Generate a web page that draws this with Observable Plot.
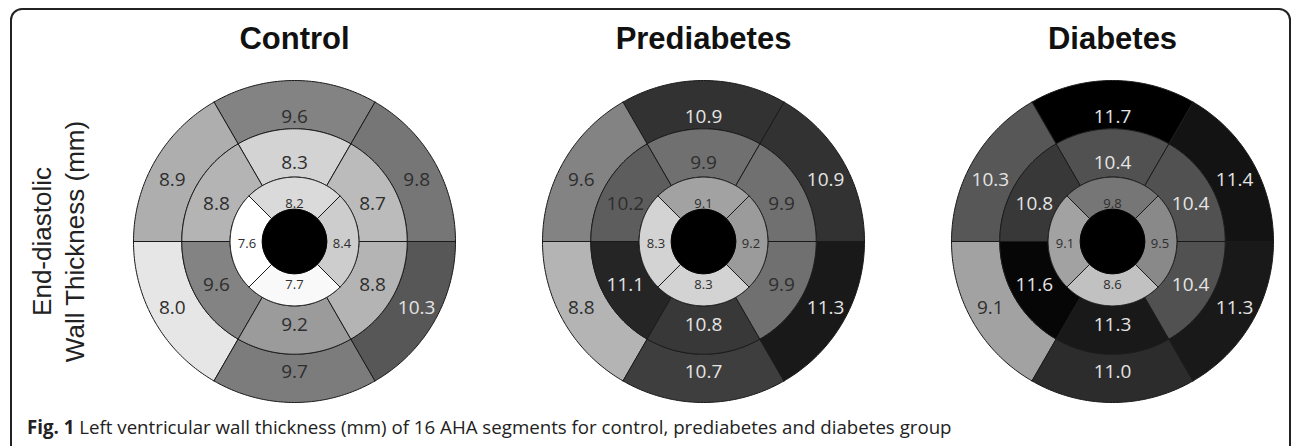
<!DOCTYPE html>
<html>
<head>
<meta charset="utf-8">
<script src="https://cdn.jsdelivr.net/npm/d3@7"></script>
<script src="https://cdn.jsdelivr.net/npm/@observablehq/plot@0.6"></script>
<style>
  html, body { margin: 0; padding: 0; background: #fff; }
  body { width: 1292px; height: 446px; overflow: hidden; position: relative; font-family: "Open Sans", sans-serif; }
  #frame { position: absolute; left: 10px; top: 8px; width: 1281px; height: 600px; box-sizing: border-box;
           border: 2px solid #222; border-radius: 12px; }
  #chart { position: absolute; left: 0; top: 0; }
  #caption { position: absolute; left: 27px; top: 415px; font-size: 18.7px; line-height: 24px; color: #222; white-space: nowrap; }
  #caption b { font-weight: 700; }
</style>
</head>
<body>
<div id="frame"></div>
<div id="chart"></div>
<div id="caption"></div>
<script>
// ---- data (AHA 16-segment order: 1-6 basal, 7-12 mid, 13-16 apical) ----
const panels = ["Control", "Prediabetes", "Diabetes"];
const segmentNumbers = [1, 2, 3, 4, 5, 6, 7, 8, 9, 10, 11, 12, 13, 14, 15, 16];
const controlThickness     = [9.6, 8.9, 8.0, 9.7, 10.3, 9.8, 8.3, 8.8, 9.6, 9.2, 8.8, 8.7, 8.2, 7.6, 7.7, 8.4];
const prediabetesThickness = [10.9, 9.6, 8.8, 10.7, 11.3, 10.9, 9.9, 10.2, 11.1, 10.8, 9.9, 9.9, 9.1, 8.3, 8.3, 9.2];
const diabetesThickness    = [11.7, 10.3, 9.1, 11.0, 11.3, 11.4, 10.4, 10.8, 11.6, 11.3, 10.4, 10.4, 9.8, 9.1, 8.6, 9.5];
const yLabelLines = ["End-diastolic", "Wall Thickness (mm)"];
const captionLead = "Fig. 1";
const captionText = "Left ventricular wall thickness (mm) of 16 AHA segments for control, prediabetes and diabetes group";
const colorDomain = [7.6, 11.7];
const whiteTextFrom = 10.3;

document.getElementById("caption").innerHTML = `<b>${captionLead}</b> ${captionText}`;

// ---- AHA bullseye geometry ----
const ringRadii = [[0.7, 1.0], [0.4, 0.7], [0.2, 0.4]];
const labelRadii = [[0.876, 0.792], [0.56, 0.503], [0.295, 0.252]];
function segGeom(s) {
  if (s <= 6) { const a0 = 60 + 60 * (s - 1); return {ring: 0, a0, a1: a0 + 60}; }
  if (s <= 12) { const a0 = 60 + 60 * (s - 7); return {ring: 1, a0, a1: a0 + 60}; }
  const a0 = 45 + 90 * (s - 13); return {ring: 2, a0, a1: a0 + 90};
}
const rad = (a) => a * Math.PI / 180;

const seriesByPanel = [controlThickness, prediabetesThickness, diabetesThickness];
const polyPoints = [];
const labels = [];
const centerPoints = [];
panels.forEach((panel, p) => {
  const values = seriesByPanel[p];
  segmentNumbers.forEach((s, i) => {
    const value = values[i];
    const {ring, a0, a1} = segGeom(s);
    const [r0, r1] = ringRadii[ring];
    const key = panel + "-" + s;
    const pts = [];
    for (let a = a0; a <= a1 + 1e-9; a += 1) pts.push([r1 * Math.cos(rad(a)), r1 * Math.sin(rad(a))]);
    for (let a = a1; a >= a0 - 1e-9; a -= 1) pts.push([r0 * Math.cos(rad(a)), r0 * Math.sin(rad(a))]);
    pts.push(pts[0]);
    for (const [x, y] of pts) polyPoints.push({panel, key, value, x, y});
    const am = (a0 + a1) / 2;
    const [rx, ry] = labelRadii[ring];
    labels.push({panel, ring, value, text: value.toFixed(1), x: rx * Math.cos(rad(am)), y: ry * Math.sin(rad(am))});
  });
  for (let a = 0; a <= 360; a += 2) centerPoints.push({panel, x: 0.2 * Math.cos(rad(a)), y: 0.2 * Math.sin(rad(a))});
});

const ext = 1.0559;
const chart = Plot.plot({
  width: 1292,
  height: 413,
  marginLeft: 123,
  marginRight: 10,
  marginTop: 71,
  marginBottom: 2,
  style: {fontFamily: "'Open Sans', sans-serif", background: "transparent"},
  facet: {marginTop: 0, marginRight: 0, marginBottom: 0, marginLeft: 0},
  fx: {domain: panels, paddingInner: 0.1697, paddingOuter: 0, axis: null, label: null},
  x: {domain: [-ext, ext], axis: null},
  y: {domain: [-ext, ext], axis: null},
  color: {type: "linear", domain: colorDomain, range: ["#ffffff", "#000000"], interpolate: "rgb", clamp: true},
  marks: [
    Plot.line(polyPoints, {x: "x", y: "y", z: "key", fx: "panel", fill: "value", stroke: "#1a1a1a", strokeWidth: 1, strokeLinejoin: "round", curve: "linear"}),
    Plot.line(centerPoints, {x: "x", y: "y", z: "panel", fx: "panel", fill: "black", stroke: "black", strokeWidth: 1}),
    Plot.text(labels, {filter: (d) => d.ring < 2 && d.value < whiteTextFrom, x: "x", y: "y", fx: "panel", text: "text", fontSize: 19, fill: "#2e2e2e", dy: 2.5}),
    Plot.text(labels, {filter: (d) => d.ring < 2 && d.value >= whiteTextFrom, x: "x", y: "y", fx: "panel", text: "text", fontSize: 19, fill: "#e4e4e4", dy: 2.5}),
    Plot.text(labels, {filter: (d) => d.ring === 2 && d.value < whiteTextFrom, x: "x", y: "y", fx: "panel", text: "text", fontSize: 13, fill: "#2e2e2e", dy: 2.5}),
    Plot.text(panels, {fx: (d) => d, text: (d) => d, frameAnchor: "top", lineAnchor: "middle", dy: -32, fontSize: 31, fontWeight: "bold", fontFamily: "'Liberation Sans', Arial, sans-serif", fill: "#111"}),
    Plot.text([panels[0]], {fx: (d) => d, text: () => yLabelLines.join("\n"), frameAnchor: "left", textAnchor: "middle", dx: -67.5, rotate: -90, lineAnchor: "middle", lineHeight: 1.27, fontSize: 26, fontFamily: "'Liberation Sans', Arial, sans-serif", fill: "#222"})
  ]
});
document.getElementById("chart").appendChild(chart);
</script>
</body>
</html>
